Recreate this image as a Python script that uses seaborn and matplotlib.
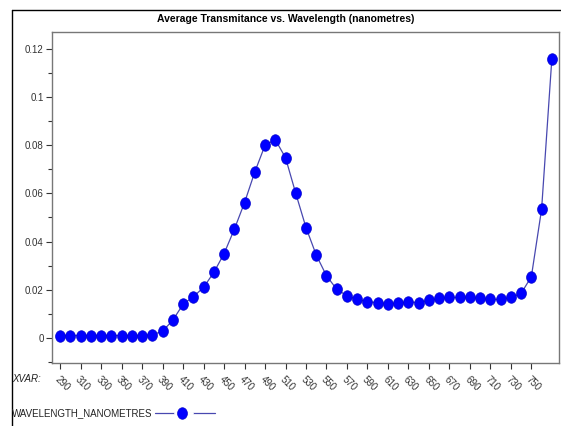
import numpy as np
import pandas as pd
import matplotlib
matplotlib.use("Agg")
import matplotlib.pyplot as plt
from matplotlib.lines import Line2D
from matplotlib import font_manager
import seaborn as sns

# wavelengths (nm) and average transmitance
wavelength = list(range(290, 780, 10))
transmitance = [
    0.0010, 0.0010, 0.0010, 0.0010, 0.0010, 0.0010, 0.0010, 0.0010, 0.0010,
    0.0013, 0.0028, 0.0074, 0.0140, 0.0171, 0.0210, 0.0272, 0.0350, 0.0451,
    0.0562, 0.0689, 0.0800, 0.0823, 0.0748, 0.0600, 0.0458, 0.0344, 0.0258,
    0.0202, 0.0175, 0.0160, 0.0151, 0.0146, 0.0142, 0.0144, 0.0149, 0.0147,
    0.0157, 0.0164, 0.0168, 0.0168, 0.0168, 0.0164, 0.0160, 0.0160, 0.0168,
    0.0185, 0.0254, 0.0534, 0.1158,
]
x_ticks = list(range(290, 770, 20))
y_ticks = [0, 0.02, 0.04, 0.06, 0.08, 0.1, 0.12]
y_tick_labels = ["0", "0.02", "0.04", "0.06", "0.08", "0.1", "0.12"]

df = pd.DataFrame({"WAVELENGTH_NANOMETRES": wavelength, "transmitance": transmitance})

sns.set_style("white")
names = {f.name for f in font_manager.fontManager.ttflist}
condensed = [n for n in ["Liberation Sans Narrow", "DejaVu Sans Condensed"] if n in names]
plt.rcParams["font.family"] = condensed + ["Liberation Sans", "DejaVu Sans"]
plt.rcParams["font.stretch"] = "condensed"
narrow = bool(condensed)

line_col = "#4848b0"
dot_col = "#0000ff"
# slightly tall ellipse like the original markers
t = np.linspace(0, 2 * np.pi, 40)
ellipse = list(zip(0.85 * np.cos(t), np.sin(t)))

fig = plt.figure(figsize=(5.61, 4.26), dpi=100)
ax = fig.add_axes([52 / 561, 1 - 363 / 426, (559 - 52) / 561, (363 - 32) / 426])

sns.lineplot(data=df, x="WAVELENGTH_NANOMETRES", y="transmitance", ax=ax,
             color=line_col, linewidth=0.9, marker=ellipse, markersize=8.3,
             markerfacecolor=dot_col, markeredgecolor="#0000cc", markeredgewidth=0.5)

fs = 8.5 if narrow else 7
ax.set_xlim(282, 777)
ax.set_ylim(-0.0104, 0.127)
ax.set_xticks(x_ticks)
ax.set_xticklabels([str(v) for v in x_ticks], rotation=-45, ha="left", va="top",
                   rotation_mode="anchor", fontsize=fs, color="#333333")
ax.set_yticks(y_ticks)
ax.set_yticklabels(y_tick_labels, fontsize=fs, color="#333333")
ax.set_yticks([-0.01, 0.01, 0.03, 0.05, 0.07, 0.09, 0.11], minor=True)
ax.tick_params(axis="both", which="major", direction="out", length=4, width=0.8,
               color="#333333", left=True, bottom=True, pad=2)
ax.tick_params(axis="y", which="minor", direction="out", length=3, width=0.8,
               color="#333333", left=True)
ax.tick_params(axis="x", which="major", pad=4)
ax.set_xlabel("")
ax.set_ylabel("")
for s in ax.spines.values():
    s.set_color("#777777")
    s.set_linewidth(1.0)

fig.text(286 / 561, 1 - 19 / 426, "Average Transmitance vs. Wavelength (nanometres)",
         ha="center", va="center", fontsize=9 if narrow else 7.5, fontweight="bold",
         color="black")
fig.text(12 / 561, 1 - 379 / 426, "XVAR:", ha="left", va="center",
         fontsize=fs, style="italic", color="#222222")
fig.text(12 / 561, 1 - 413 / 426, "WAVELENGTH_NANOMETRES", ha="left", va="center",
         fontsize=fs, color="#222222")

# legend sample: line - dot - line
fig.add_artist(Line2D([155 / 561, 215 / 561], [1 - 413 / 426] * 2,
                      color=line_col, linewidth=0.9))
fig.add_artist(Line2D([175 / 561, 192 / 561], [1 - 413 / 426] * 2,
                      color="white", linewidth=2))
fig.add_artist(Line2D([182 / 561], [1 - 413 / 426], marker=ellipse, markersize=8.3,
                      markerfacecolor=dot_col, markeredgecolor="#0000cc",
                      markeredgewidth=0.5, linestyle="none"))

# outer frame lines (top and left)
fig.add_artist(Line2D([12 / 561, 1], [1 - 10 / 426] * 2, color="black", linewidth=1))
fig.add_artist(Line2D([12 / 561] * 2, [0, 1 - 10 / 426], color="black", linewidth=1))

fig.savefig("out.png", dpi=100)
